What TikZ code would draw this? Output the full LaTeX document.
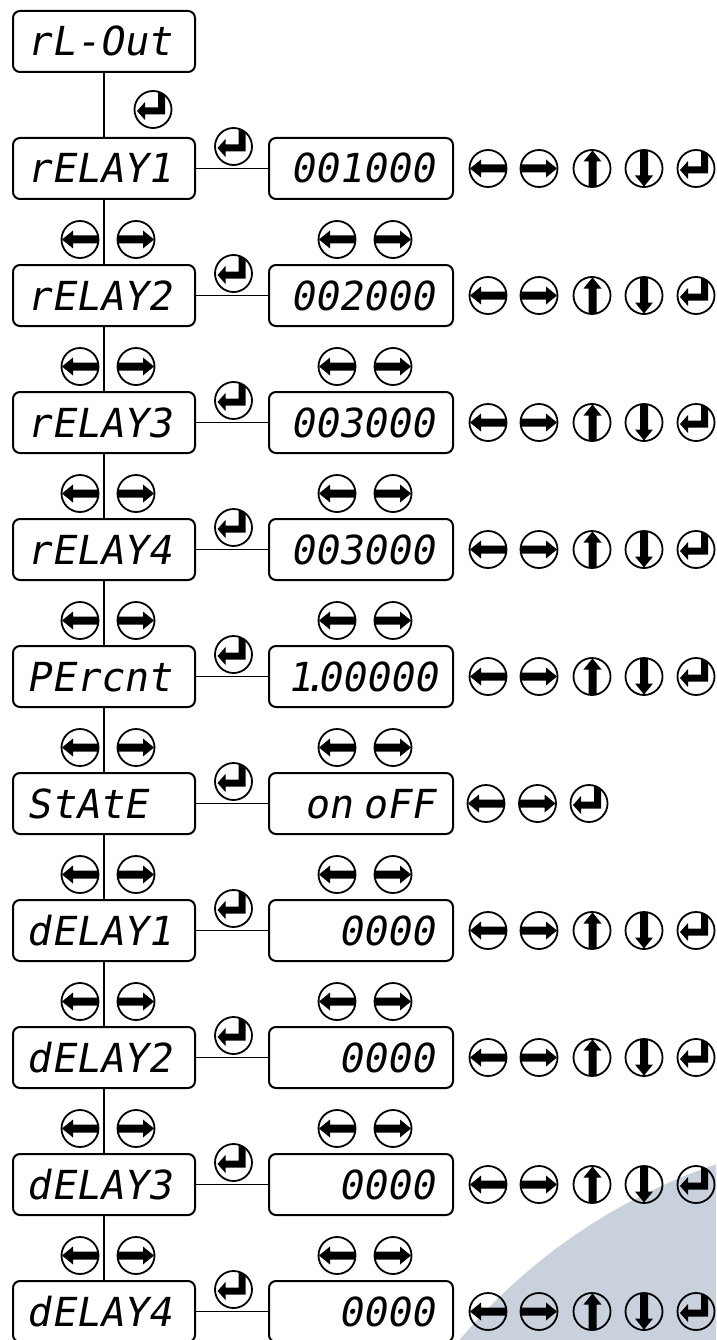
\documentclass[tikz,border=0pt]{standalone}
\usepackage{fontspec}
\newfontfamily\segfont[FakeSlant=0.18]{DejaVu Sans Mono}
\usetikzlibrary{calc}
\definecolor{wash}{RGB}{201,209,221}

% key glyphs, drawn around the key centre (y up, in pt)
\newcommand\keyglyph[1]{%
  \fill[shift={(path picture bounding box.center)}] #1 -- cycle;}
\newcommand\glyphleft{(-18pt,0pt) -- (-7pt,9pt) -- (-7pt,4pt) -- (22pt,4pt)
  -- (22pt,-4pt) -- (-7pt,-4pt) -- (-7pt,-9pt)}
\newcommand\glyphright{(18pt,0pt) -- (7pt,9pt) -- (7pt,4pt) -- (-22pt,4pt)
  -- (-22pt,-4pt) -- (7pt,-4pt) -- (7pt,-9pt)}
\newcommand\glyphup{(0.5pt,18pt) -- (9.5pt,7pt) -- (4.5pt,7pt) -- (4.5pt,-22pt)
  -- (-3.5pt,-22pt) -- (-3.5pt,7pt) -- (-8.5pt,7pt)}
\newcommand\glyphdown{(0pt,-18pt) -- (9pt,-7pt) -- (4pt,-7pt) -- (4pt,22pt)
  -- (-4pt,22pt) -- (-4pt,-7pt) -- (-9pt,-7pt)}
\newcommand\glyphenter{(5pt,20pt) -- (12pt,20pt) -- (12pt,-5pt) -- (-8pt,-5pt)
  -- (-8pt,-10.5pt) -- (-16pt,-1.5pt) -- (-8pt,7.5pt) -- (-8pt,2pt) -- (5pt,2pt)}

\tikzset{
  disp/.style={draw, line width=2pt, rounded corners=7pt, minimum height=61pt,
    inner ysep=0pt, text height=29pt, text depth=0pt,
    font=\segfont\fontsize{40}{40}\selectfont},
  menubox/.style={disp, text width=154pt, inner xsep=14pt, align=left},
  valbox/.style={disp, text width=148pt, inner xsep=18pt, align=right},
  link/.style={line width=1.2pt},
  key/.style={circle, draw, line width=1.8pt, minimum size=37pt, inner sep=0pt},
  keyL/.style={key, path picture={\keyglyph{\glyphleft}}},
  keyR/.style={key, path picture={\keyglyph{\glyphright}}},
  keyU/.style={key, path picture={\keyglyph{\glyphup}}},
  keyD/.style={key, path picture={\keyglyph{\glyphdown}}},
  keyE/.style={key, path picture={\keyglyph{\glyphenter}}},
}

\begin{document}
\begin{tikzpicture}[x=1pt,y=-1pt]
  \clip (0,0) rectangle (716,1340);
  \fill[white] (0,0) rectangle (716,1340);
  % pale disc in the lower right corner
  \fill[wash] (901,1710) circle (576);

  % menu head
  \node[menubox] (L0) at (104,41.5) {rL-Out};
  \node[keyE] (E0) at (153,109.5) {};

  \foreach \k/\lt/\rt in {1/rELAY1/001000, 2/rELAY2/002000, 3/rELAY3/003000,
      4/rELAY4/003000, 5/PErcnt/{1\kern-.22em.\kern-.22em00000},
      6/StAtE/{on\hspace{10pt}oFF\hspace{8pt}},
      7/dELAY1/0000, 8/dELAY2/0000, 9/dELAY3/0000, 10/dELAY4/0000}{
    \pgfmathsetmacro\rowy{41.5+127*\k}
    \pgfmathtruncatemacro\pk{\k-1}
    \node[menubox] (L\k) at (104,\rowy) {\lt};
    \node[valbox] (R\k) at (361,\rowy) {\rt};
    \draw[link] (L\pk.south) -- (L\k.north);
    \draw[link] (L\k.east) -- (R\k.west);
    \node[keyE] (E\k) at (233.5,\rowy-22) {};
    \ifnum\k=6
      \node[keyL] (kl\k) at (486,\rowy) {};
      \node[keyR] (kr\k) at (537.5,\rowy) {};
      \node[keyE] (ke\k) at (589,\rowy) {};
    \else
      \node[keyL] (kl\k) at (488,\rowy) {};
      \node[keyR] (kr\k) at (539,\rowy) {};
      \node[keyU] (ku\k) at (592,\rowy) {};
      \node[keyD] (kd\k) at (644,\rowy) {};
      \node[keyE] (ke\k) at (696,\rowy) {};
    \fi
    \ifnum\k<10
      \node[keyL] (ml\k) at (80,\rowy+71) {};
      \node[keyR] (mr\k) at (136,\rowy+71) {};
      \node[keyL] (vl\k) at (337,\rowy+71) {};
      \node[keyR] (vr\k) at (393,\rowy+71) {};
    \fi
  }
\end{tikzpicture}
\end{document}
